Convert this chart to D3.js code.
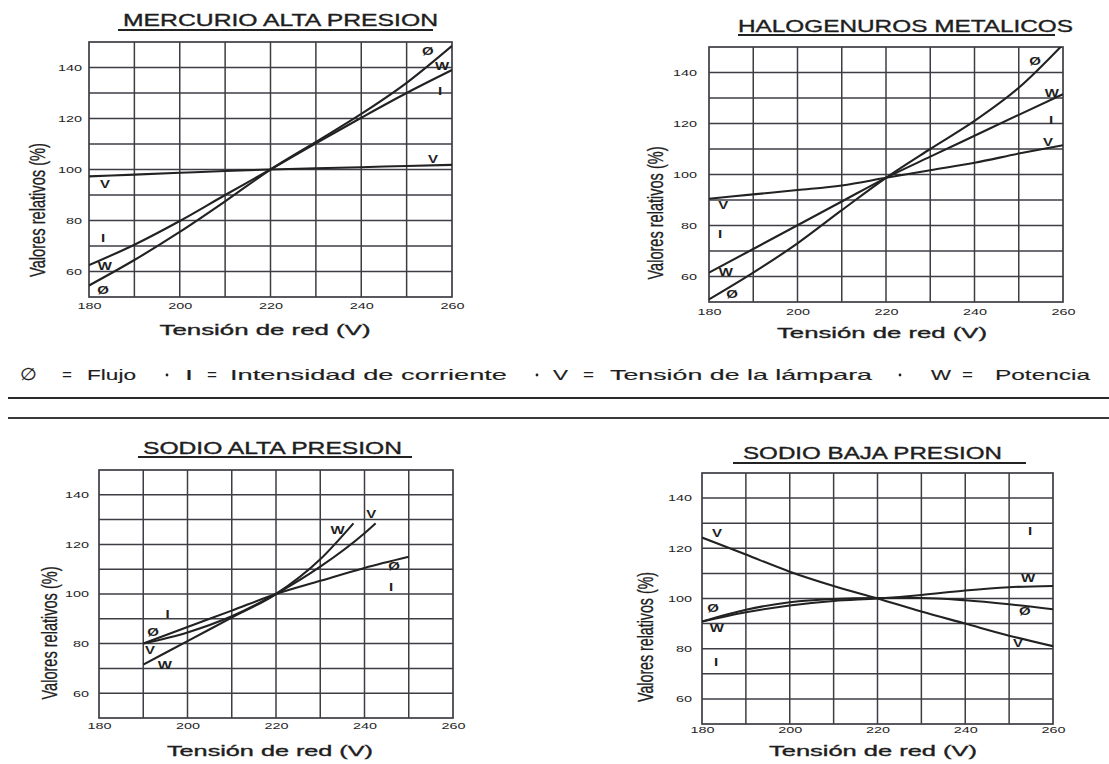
<!DOCTYPE html>
<html>
<head>
<meta charset="utf-8">
<script src="https://cdn.jsdelivr.net/npm/d3@7"></script>
<style>
  html, body { margin: 0; padding: 0; background: #ffffff; }
  svg { display: block; }
  text { font-family: "Liberation Sans", Arial, sans-serif; fill: #1e1e1e; }
  .heavy { stroke: #1e1e1e; stroke-width: 0.35px; }
  .medium { stroke: #1e1e1e; stroke-width: 0.15px; }
</style>
</head>
<body>
<svg id="chart" width="1109" height="764"></svg>
<script>
// ---------- data ----------
const voltages = [180, 190, 200, 210, 220, 230, 240, 250, 260];
const xTickValues = [180, 200, 220, 240, 260];
const yTickValues = [60, 80, 100, 120, 140];
const panelTitles = ["MERCURIO ALTA PRESION", "HALOGENUROS METALICOS", "SODIO ALTA PRESION", "SODIO BAJA PRESION"];
const xAxisTitle = "Tensión de red (V)";
const yAxisTitle = "Valores relativos (%)";
const legendItems = [
  ["∅", "Flujo"],
  ["I", "Intensidad de corriente"],
  ["V", "Tensión de la lámpara"],
  ["W", "Potencia"]
];

// Mercurio alta presión (W and I coincide)
const mapFlujo    = [54.5, 64.5, 75.5, 87.5, 100, 110.8, 121.8, 134, 148.5];
const mapPotencia = [62.5, 70.5, 79.8, 90, 100, 110.3, 120.3, 130, 139];
const mapTension  = [97.3, 98, 98.7, 99.4, 100, 100.5, 100.9, 101.4, 101.8];

// Halogenuros metálicos (W and I coincide)
const hmFlujo    = [51, 61.5, 73, 86, 98.7, 110, 121, 134, 151];
const hmPotencia = [61.5, 70.8, 80.1, 89.4, 98.7, 107, 115.2, 123.4, 131.5];
const hmTension  = [90.5, 92.2, 93.9, 95.7, 98.7, 101.7, 104.6, 108.2, 111.5];

// Sodio alta presión (Ø and I coincide)
const sapVoltsFlujo    = [190, 200, 210, 220, 230, 240, 250];
const sapFlujo         = [80, 86.7, 93.3, 100, 105.3, 110.5, 115];
const sapVoltsTension  = [190, 200, 210, 220, 230, 240, 242.5];
const sapTension       = [80, 84.5, 91, 100, 111, 124.5, 128.5];
const sapVoltsPotencia = [190, 200, 210, 220, 230, 237.5];
const sapPotencia      = [71.5, 81, 90.5, 100, 114, 128.5];

// Sodio baja presión
const sbpFlujo    = [90.8, 95.5, 98.5, 99.8, 100.2, 100.2, 99.3, 97.7, 95.7];
const sbpPotencia = [90.8, 94.5, 97.2, 99, 100, 101.4, 103.2, 104.5, 105];
const sbpTension  = [124.3, 117.5, 110.7, 105, 100, 94.8, 90, 85.2, 81];

// Curve letters: [letter, voltage, percent]
const mapLabels = [["Ø",254.7,146.1],["W",257.8,140.2],["I",257.4,130.4],["V",255.8,104.1],
                   ["V",183.5,94.3],["I",183.1,73.1],["W",183.5,61.8],["Ø",183.1,52.7]];
const hmLabels  = [["Ø",253.7,144.5],["W",257.5,131.6],["I",257.3,121],["V",256.6,112.7],
                   ["V",183.2,88],["I",182.5,76.3],["W",183.8,61.4],["Ø",185.2,53.1]];
const sapLabels = [["W",233.9,125.8],["V",241.5,131.9],["Ø",246.7,110.9],["I",246,102.8],
                   ["I",195.5,91.9],["Ø",192.2,84.3],["V",191.5,77.4],["W",194.9,71]];
const sbpLabels = [["V",183.4,125.7],["I",254.8,126.5],["W",254.3,107.8],["Ø",182.5,96.2],
                   ["Ø",253.6,95],["W",183.4,88.2],["V",252,81.9],["I",183.2,74.7]];

const zip = (xs, ys) => xs.map((v, i) => [v, ys[i]]);

// ---------- layout ----------
const panels = [
  { title: panelTitles[0],
    plot: { left: 89, right: 452, top: 42, bottom: 297 },
    titleBox: { cx: 280.5, base: 26, w: 315, size: 17 }, underline: { x0: 118, x1: 433, y: 30 },
    xTitle: { cx: 265, base: 335, w: 211 }, yTitle: { x: 45, cy: 210, len: 134 },
    yTickRight: 82, xTickBase: 310,
    series: [zip(voltages, mapFlujo), zip(voltages, mapPotencia), zip(voltages, mapTension)],
    labels: mapLabels },
  { title: panelTitles[1],
    plot: { left: 709, right: 1063, top: 47, bottom: 302 },
    titleBox: { cx: 905.5, base: 32, w: 335, size: 17 }, underline: { x0: 738, x1: 1055, y: 35 },
    xTitle: { cx: 882, base: 338, w: 210 }, yTitle: { x: 663, cy: 213, len: 133 },
    yTickRight: 697, xTickBase: 316,
    series: [zip(voltages, hmFlujo), zip(voltages, hmPotencia), zip(voltages, hmTension)],
    labels: hmLabels },
  { title: panelTitles[2],
    plot: { left: 99, right: 453, top: 470, bottom: 718 },
    titleBox: { cx: 272.5, base: 454, w: 259, size: 16 }, underline: { x0: 138, x1: 412, y: 457 },
    xTitle: { cx: 270, base: 756, w: 206 }, yTitle: { x: 57, cy: 633, len: 133 },
    yTickRight: 89, xTickBase: 730,
    series: [zip(sapVoltsFlujo, sapFlujo), zip(sapVoltsTension, sapTension), zip(sapVoltsPotencia, sapPotencia)],
    labels: sapLabels },
  { title: panelTitles[3],
    plot: { left: 702, right: 1053, top: 473, bottom: 724 },
    titleBox: { cx: 872.5, base: 459, w: 259, size: 16 }, underline: { x0: 733, x1: 1026, y: 463 },
    xTitle: { cx: 873, base: 756, w: 208 }, yTitle: { x: 653, cy: 637, len: 130 },
    yTickRight: 692, xTickBase: 734,
    series: [zip(voltages, sbpFlujo), zip(voltages, sbpPotencia), zip(voltages, sbpTension)],
    labels: sbpLabels }
];

const svg = d3.select("#chart");
const ink = "#222";
const gridInk = "#3d3d44";

function stretched(sel, str, x, y, width, size, anchor) {
  return sel.append("text")
    .attr("x", x).attr("y", y)
    .attr("text-anchor", anchor || "middle")
    .attr("font-size", size)
    .attr("textLength", width)
    .attr("lengthAdjust", "spacingAndGlyphs")
    .text(str);
}

panels.forEach((p, i) => {
  const g = svg.append("g");
  const x = d3.scaleLinear().domain([180, 260]).range([p.plot.left, p.plot.right]);
  const y = d3.scaleLinear().domain([50, 150]).range([p.plot.bottom, p.plot.top]);

  // grid every 10 V and every 10 %
  g.append("g").selectAll("line").data(d3.range(190, 260, 10)).join("line")
    .attr("x1", d => x(d)).attr("x2", d => x(d))
    .attr("y1", y(50)).attr("y2", y(150))
    .attr("stroke", gridInk).attr("stroke-width", 1.5);
  g.append("g").selectAll("line").data(d3.range(60, 150, 10)).join("line")
    .attr("x1", x(180)).attr("x2", x(260))
    .attr("y1", d => y(d)).attr("y2", d => y(d))
    .attr("stroke", gridInk).attr("stroke-width", 1.5);
  g.append("rect")
    .attr("x", x(180)).attr("y", y(150))
    .attr("width", x(260) - x(180)).attr("height", y(50) - y(150))
    .attr("fill", "none").attr("stroke", gridInk).attr("stroke-width", 1.7);

  // tick labels from d3 axes, widened like the printed numerals
  const yAxis = g.append("g")
    .attr("transform", `translate(${p.yTickRight},0)`)
    .call(d3.axisLeft(y).tickValues(yTickValues).tickSize(0).tickPadding(0));
  yAxis.select(".domain").remove();
  yAxis.selectAll("text")
    .attr("font-size", 9).attr("font-family", null).attr("fill", ink)
    .attr("transform", "scale(1.6,1)");

  const xAxis = g.append("g")
    .attr("transform", `translate(0,${p.xTickBase - 7})`)
    .call(d3.axisBottom(x).tickValues(xTickValues).tickSize(0).tickPadding(0));
  xAxis.select(".domain").remove();
  xAxis.selectAll("text")
    .attr("font-size", 9).attr("font-family", null).attr("fill", ink)
    .attr("transform", "scale(1.6,1)");

  // curves
  const clipId = "clip" + i;
  g.append("clipPath").attr("id", clipId).append("rect")
    .attr("x", x(180)).attr("y", y(150))
    .attr("width", x(260) - x(180)).attr("height", y(50) - y(150));
  const line = d3.line().x(d => x(d[0])).y(d => y(d[1])).curve(d3.curveMonotoneX);
  g.append("g").attr("clip-path", `url(#${clipId})`)
    .selectAll("path").data(p.series).join("path")
    .attr("d", line)
    .attr("fill", "none").attr("stroke", ink).attr("stroke-width", 2.1)
    .attr("stroke-linejoin", "round");

  // curve letters
  g.append("g").selectAll("text").data(p.labels).join("text")
    .attr("transform", d => `translate(${x(d[1])},${y(d[2])}) scale(1.5,1)`)
    .attr("text-anchor", "middle").attr("dy", "0.35em")
    .attr("font-size", 10).attr("font-weight", "bold")
    .text(d => d[0]);

  // titles
  stretched(g, p.title, p.titleBox.cx, p.titleBox.base, p.titleBox.w, p.titleBox.size)
    .attr("class", "heavy");
  g.append("line")
    .attr("x1", p.underline.x0).attr("x2", p.underline.x1)
    .attr("y1", p.underline.y).attr("y2", p.underline.y)
    .attr("stroke", ink).attr("stroke-width", 2);
  stretched(g, xAxisTitle, p.xTitle.cx, p.xTitle.base, p.xTitle.w, 15).attr("class", "heavy");
  g.append("text")
    .attr("class", "heavy")
    .attr("transform", `translate(${p.yTitle.x},${p.yTitle.cy}) rotate(-90)`)
    .attr("text-anchor", "middle")
    .attr("font-size", 22)
    .attr("font-family", "'Liberation Sans Narrow', 'Liberation Sans', Arial, sans-serif")
    .attr("textLength", p.yTitle.len).attr("lengthAdjust", "spacingAndGlyphs")
    .text(yAxisTitle);
});

// ---------- legend strip ----------
const legend = svg.append("g");
const legendBase = 380;
const legendSpans = [
  { sym: [20, 37], eq: [62, 72], txt: [87, 136] },
  { sym: [185, 193], eq: [207, 217], txt: [230, 507] },
  { sym: [553, 568], eq: [583, 594], txt: [610, 872] },
  { sym: [931, 951], eq: [962, 973], txt: [995, 1090] }
];
const dots = [167, 537, 900];
legendItems.forEach((item, i) => {
  const s = legendSpans[i];
  stretched(legend, item[0], (s.sym[0] + s.sym[1]) / 2, legendBase, s.sym[1] - s.sym[0], i === 0 ? 17 : 15).attr("class", "medium");
  stretched(legend, "=", (s.eq[0] + s.eq[1]) / 2, legendBase, s.eq[1] - s.eq[0], 15);
  stretched(legend, item[1], s.txt[0], legendBase, s.txt[1] - s.txt[0], 15, "start").attr("class", "medium");
});
legend.selectAll("circle").data(dots).join("circle")
  .attr("cx", d => d).attr("cy", legendBase - 5).attr("r", 1.4).attr("fill", ink);
legend.append("line").attr("x1", 8).attr("x2", 1109).attr("y1", 398).attr("y2", 398)
  .attr("stroke", "#2a2a2a").attr("stroke-width", 2);
legend.append("line").attr("x1", 8).attr("x2", 1109).attr("y1", 418).attr("y2", 418)
  .attr("stroke", "#3a3a3a").attr("stroke-width", 1.8);
</script>
</body>
</html>
